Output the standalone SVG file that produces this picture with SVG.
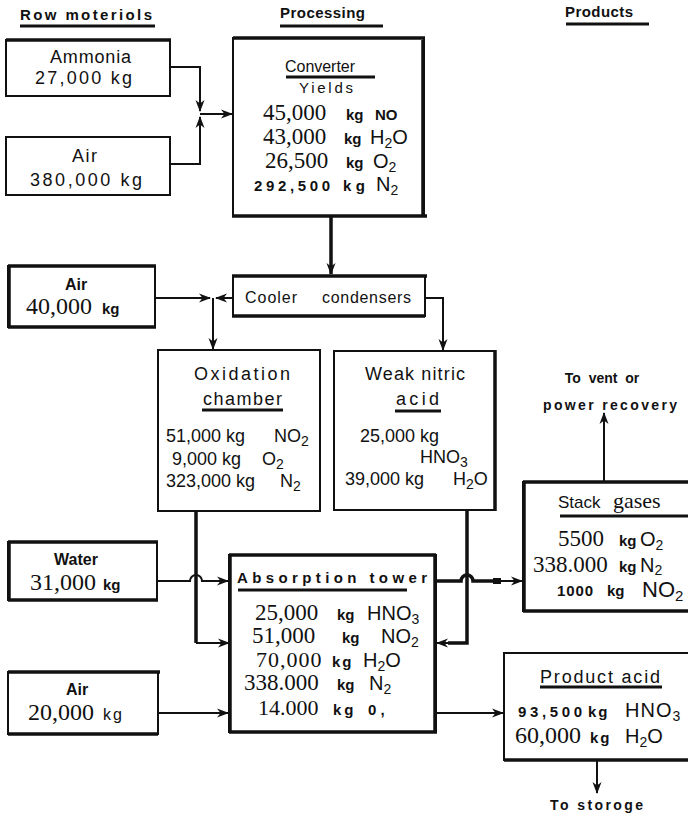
<svg xmlns="http://www.w3.org/2000/svg" width="688" height="816" viewBox="0 0 688 816">
<defs>
<marker id="ah" markerWidth="12" markerHeight="10" refX="11" refY="5" orient="auto" markerUnits="userSpaceOnUse">
<path d="M0,0.5 L12,5 L0,9.5 L3.5,5 Z" fill="#111"/>
</marker>
<style>
.bx{fill:#fff;stroke:#111;stroke-width:2}
.tk{stroke:#111;stroke-width:3.5;fill:none}
.ln{stroke:#111;stroke-width:2;fill:none}
.ul{stroke:#111;stroke-width:3}
.s{font-family:"Liberation Sans",Arial,sans-serif;fill:#111}
.sb{font-family:"Liberation Sans",Arial,sans-serif;font-weight:bold;fill:#111}
.r{font-family:"Liberation Serif","Times New Roman",serif;fill:#111}
.hd{font-family:"Liberation Sans",Arial,sans-serif;font-weight:bold;font-size:15px;fill:#111}
</style>
</defs>
<rect width="688" height="816" fill="#fff"/>

<g id="headers">
<text class="hd" x="20" y="20" textLength="132" lengthAdjust="spacing">Row moteriols</text>
<line class="ul" x1="20" y1="26" x2="155" y2="26"/>
<text class="hd" x="280" y="18" textLength="85" lengthAdjust="spacing">Processing</text>
<line class="ul" x1="280" y1="26" x2="383" y2="26"/>
<text class="hd" x="565" y="17" textLength="68" lengthAdjust="spacing">Products</text>
<line class="ul" x1="566" y1="24" x2="649" y2="24"/>
</g>

<g id="ammonia">
<rect class="bx" x="6" y="40" width="164" height="56"/>
<line class="tk" x1="6" y1="40" x2="171" y2="40"/>
<text class="s" font-size="18" x="50" y="63" textLength="81" lengthAdjust="spacing">Ammonia</text>
<text class="s" font-size="18" x="35" y="84" textLength="97" lengthAdjust="spacing">27,000 kg</text>
</g>

<g id="air1">
<rect class="bx" x="6" y="137" width="164" height="58"/>
<text class="s" font-size="18" x="72" y="162" textLength="25" lengthAdjust="spacing">Air</text>
<text class="s" font-size="18" x="30" y="186" textLength="112" lengthAdjust="spacing">380,000 kg</text>
</g>

<g id="converter">
<rect class="bx" x="233" y="38" width="191" height="178"/>
<line class="tk" x1="233" y1="38" x2="425" y2="38"/>
<line class="tk" x1="232" y1="216" x2="427" y2="216"/>
<line class="tk" x1="423" y1="40" x2="423" y2="216"/>
<text class="s" font-size="16" x="285" y="72" textLength="70" lengthAdjust="spacing">Converter</text>
<line class="ul" x1="286" y1="77" x2="375" y2="77"/>
<text class="s" font-size="15" x="299" y="93" textLength="54" lengthAdjust="spacing">Yields</text>
<text class="r" font-size="23" x="263" y="120">45,000</text>
<text class="sb" font-size="15" x="346" y="120">kg</text>
<text class="sb" font-size="15" x="375" y="120">NO</text>
<text class="r" font-size="23" x="263" y="144">43,000</text>
<text class="sb" font-size="15" x="344" y="144">kg</text>
<text class="s" font-size="20" x="370" y="144">H<tspan font-size="14" dy="4">2</tspan><tspan dy="-4">O</tspan></text>
<text class="r" font-size="23" x="265" y="168">26,500</text>
<text class="sb" font-size="15" x="346" y="168">kg</text>
<text class="s" font-size="20" x="373" y="168">O<tspan font-size="14" dy="4">2</tspan></text>
<text class="sb" font-size="15" x="254" y="191" textLength="76" lengthAdjust="spacing">292,500</text>
<text class="sb" font-size="15" x="343" y="191" textLength="22" lengthAdjust="spacing">kg</text>
<text class="s" font-size="20" x="376" y="191">N<tspan font-size="14" dy="4">2</tspan></text>
</g>

<g id="cooler">
<rect class="bx" x="233" y="276" width="192" height="40"/>
<line class="tk" x1="232" y1="276" x2="427" y2="276"/>
<line class="tk" x1="232" y1="316" x2="425" y2="316"/>
<text class="s" font-size="16" x="245" y="303" textLength="52" lengthAdjust="spacing">Cooler</text>
<text class="s" font-size="16" x="322" y="303" textLength="89" lengthAdjust="spacing">condensers</text>
</g>

<g id="air2">
<rect class="bx" x="8" y="266" width="147" height="61"/>
<line class="tk" x1="8" y1="266" x2="156" y2="266"/>
<line class="tk" x1="9" y1="266" x2="9" y2="327"/>
<line class="tk" x1="8" y1="327" x2="156" y2="327"/>
<text class="sb" font-size="16" x="76" y="290" text-anchor="middle">Air</text>
<text class="r" font-size="24" x="26" y="314">40,000</text>
<text class="sb" font-size="15" x="102" y="314">kg</text>
</g>

<g id="oxidation">
<rect class="bx" x="158" y="350" width="162" height="161"/>
<text class="s" font-size="18" x="194" y="380" textLength="96" lengthAdjust="spacing">Oxidation</text>
<text class="s" font-size="18" x="203" y="405" textLength="79" lengthAdjust="spacing">chamber</text>
<line class="ul" x1="202" y1="410" x2="283" y2="410"/>
<text class="s" font-size="18" x="166" y="442">51,000 kg</text>
<text class="s" font-size="18" x="274" y="442">NO<tspan font-size="14" dy="4">2</tspan></text>
<text class="s" font-size="18" x="172" y="465">9,000 kg</text>
<text class="s" font-size="18" x="262" y="465">O<tspan font-size="14" dy="4">2</tspan></text>
<text class="s" font-size="18" x="166" y="487">323,000 kg</text>
<text class="s" font-size="18" x="280" y="487">N<tspan font-size="14" dy="4">2</tspan></text>
</g>

<g id="weak-nitric-acid">
<rect class="bx" x="334" y="351" width="161" height="159"/>
<line class="tk" x1="495" y1="350" x2="495" y2="511"/>
<text class="s" font-size="18" x="365" y="380" textLength="100" lengthAdjust="spacing">Weak nitric</text>
<text class="s" font-size="18" x="396" y="405" textLength="43" lengthAdjust="spacing">acid</text>
<line class="ul" x1="395" y1="411" x2="441" y2="411"/>
<text class="s" font-size="18" x="360" y="442">25,000 kg</text>
<text class="s" font-size="18" x="420" y="463">HNO<tspan font-size="14" dy="4">3</tspan></text>
<text class="s" font-size="18" x="345" y="485">39,000 kg</text>
<text class="s" font-size="18" x="453" y="485">H<tspan font-size="14" dy="4">2</tspan><tspan dy="-4">O</tspan></text>
</g>

<g id="vent-label">
<text class="sb" font-size="14" x="602" y="383" text-anchor="middle" word-spacing="4">To vent or</text>
<text class="sb" font-size="14" x="543" y="410" textLength="134" lengthAdjust="spacing">power  recovery</text>
</g>

<g id="stack-gases">
<rect class="bx" x="523" y="482" width="170" height="129"/>
<line class="tk" x1="523" y1="482" x2="688" y2="482"/>
<line class="tk" x1="524" y1="482" x2="524" y2="612"/>
<line class="tk" x1="523" y1="611" x2="688" y2="611"/>
<text class="s" font-size="17" x="558" y="508">Stack</text>
<text class="r" font-size="22" x="613" y="508">gases</text>
<line class="ul" x1="560" y1="516" x2="688" y2="516"/>
<text class="r" font-size="23" x="558" y="546">5500</text>
<text class="sb" font-size="15" x="619" y="546">kg</text>
<text class="s" font-size="20" x="640" y="546">O<tspan font-size="14" dy="4">2</tspan></text>
<text class="r" font-size="23" x="533" y="572">338.000</text>
<text class="sb" font-size="15" x="619" y="572">kg</text>
<text class="s" font-size="20" x="640" y="572">N<tspan font-size="14" dy="3">2</tspan></text>
<text class="sb" font-size="15" x="557" y="596" textLength="36" lengthAdjust="spacing">1000</text>
<text class="sb" font-size="15" x="607" y="596">kg</text>
<text class="s" font-size="22" x="642" y="597">NO<tspan font-size="15" dy="4">2</tspan></text>
</g>

<g id="water">
<rect class="bx" x="8" y="542" width="149" height="58"/>
<line class="tk" x1="8" y1="542" x2="158" y2="542"/>
<line class="tk" x1="9" y1="542" x2="9" y2="600"/>
<line class="tk" x1="8" y1="600" x2="158" y2="600"/>
<text class="sb" font-size="16" x="76" y="565" text-anchor="middle">Water</text>
<text class="r" font-size="24" x="30" y="590">31,000</text>
<text class="sb" font-size="15" x="103" y="590">kg</text>
</g>

<g id="air3">
<rect class="bx" x="8" y="672" width="150" height="62"/>
<line class="tk" x1="8" y1="672" x2="160" y2="672"/>
<line class="tk" x1="8" y1="734" x2="158" y2="734"/>
<text class="sb" font-size="16" x="77" y="695" text-anchor="middle">Air</text>
<text class="r" font-size="24" x="28" y="720">20,000</text>
<text class="s" font-size="16" x="103" y="720" letter-spacing="2">kg</text>
</g>

<g id="absorption-tower">
<rect class="bx" x="229" y="555" width="207" height="177"/>
<line class="tk" x1="229" y1="555" x2="436" y2="555"/>
<line class="tk" x1="229" y1="732" x2="437" y2="732"/>
<line class="tk" x1="230" y1="555" x2="230" y2="733"/>
<line class="tk" x1="435" y1="554" x2="435" y2="732"/>
<text class="sb" font-size="15" x="237" y="583" textLength="190" lengthAdjust="spacing">Absorption tower</text>
<line class="ul" x1="238" y1="590" x2="407" y2="590"/>
<text class="r" font-size="23" x="255" y="620">25,000</text>
<text class="sb" font-size="15" x="337" y="620">kg</text>
<text class="s" font-size="20" x="367" y="620">HNO<tspan font-size="14" dy="4">3</tspan></text>
<text class="r" font-size="23" x="252" y="643">51,000</text>
<text class="sb" font-size="15" x="342" y="643">kg</text>
<text class="s" font-size="20" x="381" y="643">NO<tspan font-size="14" dy="4">2</tspan></text>
<text class="r" font-size="22" x="256" y="667" letter-spacing="1">70,000</text>
<text class="sb" font-size="15" x="332" y="667" letter-spacing="2">kg</text>
<text class="s" font-size="20" x="363" y="667">H<tspan font-size="14" dy="4">2</tspan><tspan dy="-4">O</tspan></text>
<text class="r" font-size="23" x="244" y="690">338.000</text>
<text class="sb" font-size="15" x="337" y="690">kg</text>
<text class="s" font-size="20" x="369" y="690">N<tspan font-size="14" dy="4">2</tspan></text>
<text class="r" font-size="22" x="258" y="715">14.000</text>
<text class="sb" font-size="15" x="333" y="715" letter-spacing="3">kg</text>
<text class="sb" font-size="15" x="368" y="715">0 ,</text>
</g>

<g id="product-acid">
<rect class="bx" x="504" y="653" width="190" height="107"/>
<line class="tk" x1="504" y1="760" x2="688" y2="760"/>
<text class="s" font-size="18" x="540" y="683" textLength="120" lengthAdjust="spacing">Product acid</text>
<line class="ul" x1="540" y1="687" x2="662" y2="687"/>
<text class="sb" font-size="15" x="518" y="717" textLength="64" lengthAdjust="spacing">93,500</text>
<text class="sb" font-size="15" x="588" y="717" letter-spacing="2">kg</text>
<text class="s" font-size="20" x="625" y="717" letter-spacing="1">HNO<tspan font-size="14" dy="4">3</tspan></text>
<text class="r" font-size="24" x="515" y="743">60,000</text>
<text class="sb" font-size="15" x="590" y="743" letter-spacing="2">kg</text>
<text class="s" font-size="20" x="625" y="743">H<tspan font-size="14" dy="4">2</tspan><tspan dy="-4">O</tspan></text>
</g>

<g id="storage-label">
<text class="sb" font-size="14" x="550" y="810" textLength="93" lengthAdjust="spacing">To  storoge</text>
</g>

<g id="connectors">
<path class="ln" d="M170,67 H200 V111" marker-end="url(#ah)"/>
<path class="ln" d="M170,164 H200 V117" marker-end="url(#ah)"/>
<path class="ln" d="M200,114 H232" marker-end="url(#ah)"/>
<path class="tk" d="M331,216 V274" marker-end="url(#ah)"/>
<path class="ln" d="M155,298 H210" marker-end="url(#ah)"/>
<path class="ln" d="M233,298 H216" marker-end="url(#ah)"/>
<path class="ln" d="M213,298 V349" marker-end="url(#ah)"/>
<path class="ln" d="M425,298 H443 V350" marker-end="url(#ah)"/>
<path class="tk" d="M196,511 V643"/>
<path class="ln" d="M196,643 H229" marker-end="url(#ah)"/>
<path class="ln" d="M157,581 H190 A6,6 0 0 1 202,581 H228" marker-end="url(#ah)"/>
<path class="ln" d="M158,713 H228" marker-end="url(#ah)"/>
<path class="tk" d="M467,510 V643 H448"/>
<path class="ln" d="M450,643 H437" marker-end="url(#ah)"/>
<path class="tk" d="M436,581 H461 A6,6 0 0 1 473,581 H494"/>
<rect x="493" y="578" width="8" height="6" fill="#111"/>
<path class="ln" d="M500,581 H522" marker-end="url(#ah)"/>
<path class="ln" d="M436,713 H503" marker-end="url(#ah)"/>
<path class="ln" d="M604,482 V413" marker-end="url(#ah)"/>
<path class="ln" d="M597,760 V793" marker-end="url(#ah)"/>
</g>
</svg>
